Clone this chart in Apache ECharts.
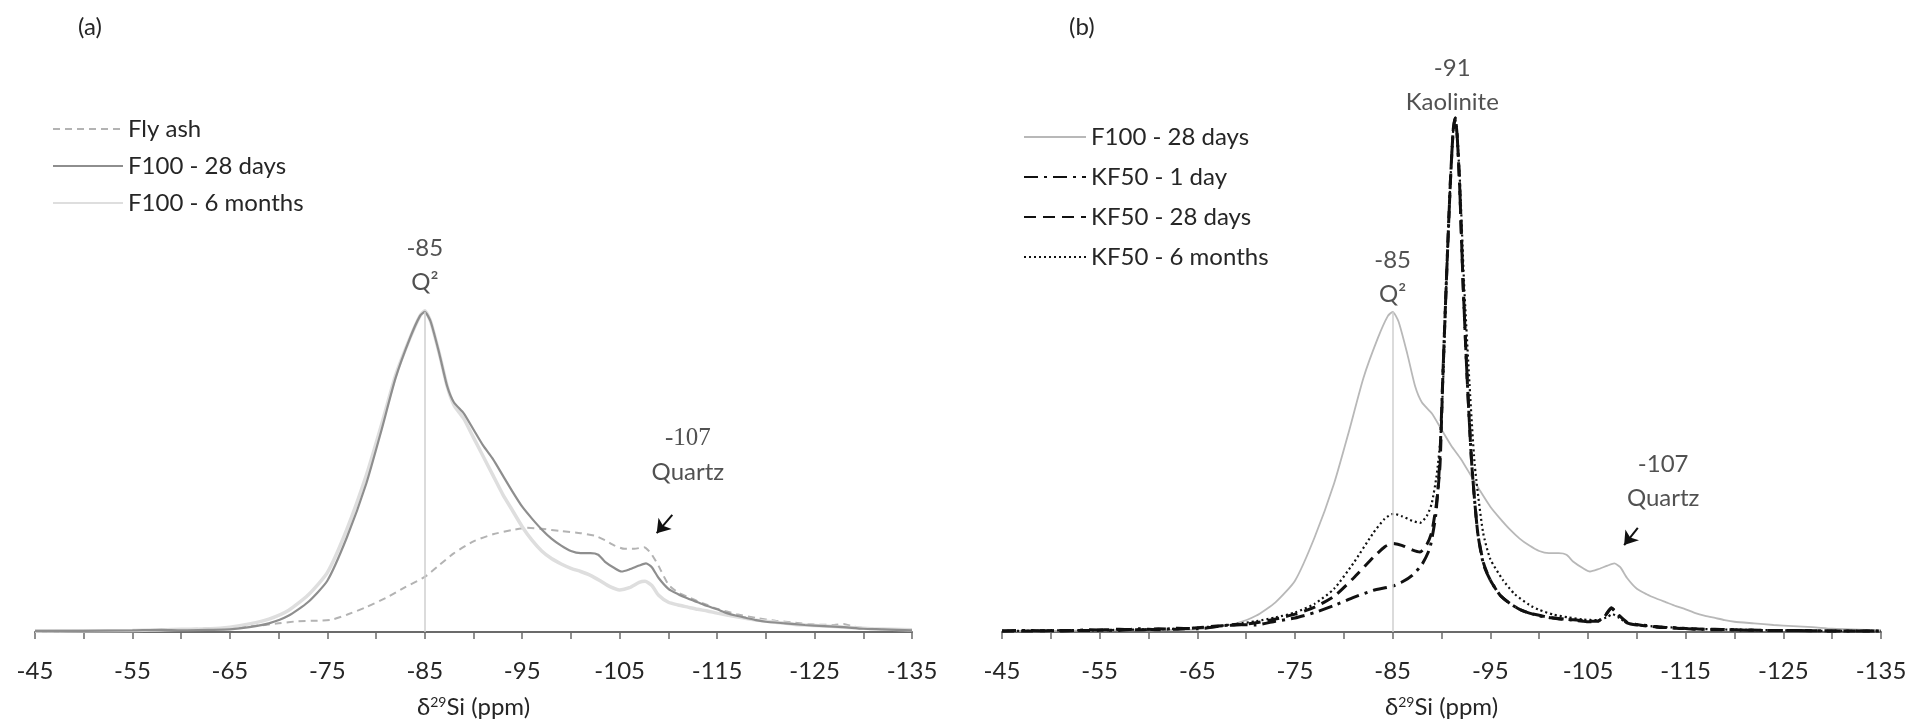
<!DOCTYPE html>
<html>
<head>
<meta charset="utf-8">
<script src="https://cdn.jsdelivr.net/npm/echarts@6.0.0/dist/echarts.min.js"></script>
<style>
  html, body { margin: 0; background: #fff; }
  #chart { width: 1927px; height: 728px; }
</style>
</head>
<body>
<div id="chart"></div>
<script>
// chemical shift (ppm), relative intensity
const tickLabels = [-45, -55, -65, -75, -85, -95, -105, -115, -125, -135]

const flyAsh = [
  [-45, 0.1], [-50, 0.2], [-55, 0.3], [-60, 0.5], [-65, 0.8], [-68, 1.2], [-70, 1.6], [-72, 2.0],
  [-74, 2.1], [-75.5, 2.3], [-77, 3.2], [-79, 4.6], [-81, 6.3], [-83, 8.3], [-85, 10.2], [-86.5, 12.4],
  [-88, 14.6], [-90, 16.8], [-92, 18.1], [-94, 18.9], [-95.5, 19.3], [-97, 19.1], [-99, 18.7],
  [-101, 18.3], [-102.5, 17.8], [-103.5, 17.0], [-104.5, 16.0], [-105.5, 15.4], [-106.5, 15.4],
  [-107.5, 15.7], [-108.2, 14.6], [-109, 12.2], [-110, 8.8], [-111, 7.3], [-112, 6.5], [-113, 5.7],
  [-114, 5.0], [-115, 4.3], [-117, 3.3], [-119, 2.6], [-121, 2.1], [-123, 1.7], [-125, 1.4],
  [-127, 1.3], [-128, 1.5], [-129, 1.0], [-131, 0.6], [-135, 0.3]
]

const f100Days28 = [
  [-45, 0.2], [-50, 0.2], [-55, 0.3], [-58, 0.4], [-60, 0.3], [-63, 0.4], [-65, 0.5], [-67, 0.9],
  [-69, 1.6], [-71, 3.0], [-73, 5.5], [-75, 9.5], [-77, 17.5], [-79, 27.5], [-80.5, 37], [-82, 47],
  [-83.5, 54.5], [-84.5, 58.5], [-85, 59.3], [-85.6, 57.5], [-86.5, 51.5], [-87.3, 45.5], [-88, 42.5],
  [-89, 40.5], [-90, 37.5], [-91, 34.5], [-92, 32], [-93, 29], [-94, 26], [-95, 23.2], [-96, 21],
  [-97, 19], [-98, 17.3], [-99, 16], [-100, 15], [-101, 14.6], [-102, 14.6], [-102.8, 14.3],
  [-103.5, 13], [-104.5, 11.8], [-105.2, 11.2], [-106, 11.6], [-107, 12.3], [-107.7, 12.7],
  [-108.3, 12], [-109, 10], [-110, 8], [-111, 7], [-112, 6.2], [-113, 5.5], [-114, 4.8], [-115, 4.2],
  [-116, 3.5], [-117, 3.0], [-118, 2.6], [-119, 2.2], [-120, 1.9], [-122, 1.6], [-124, 1.3],
  [-126, 1.1], [-128, 0.9], [-130, 0.6], [-132, 0.5], [-135, 0.3]
]

const f100Months6 = [
  [-45, 0.2], [-55, 0.3], [-60, 0.5], [-63, 0.6], [-65, 0.9], [-67, 1.5], [-69, 2.4], [-71, 4.0],
  [-73, 6.8], [-75, 11], [-77, 19], [-79, 29], [-80.5, 38], [-82, 47.5], [-83.5, 54.5], [-84.5, 58.5],
  [-85, 59.5], [-85.6, 57.5], [-86.5, 51.5], [-87.3, 45.5], [-88, 42], [-89, 39.5], [-90, 36],
  [-91, 32.5], [-92, 29], [-93, 25.5], [-94, 22.5], [-95, 19.5], [-96, 17], [-97, 15], [-98, 13.6],
  [-99, 12.6], [-100, 11.8], [-101, 11.2], [-102, 10.5], [-103, 9.5], [-104, 8.4], [-105, 7.8],
  [-106, 8.2], [-107, 9.2], [-107.6, 9.4], [-108.3, 8.6], [-109, 6.8], [-110, 5.5], [-111, 5.0],
  [-112, 4.6], [-113, 4.2], [-114, 3.9], [-115, 3.5], [-117, 2.8], [-119, 2.2], [-121, 1.8],
  [-123, 1.4], [-125, 1.2], [-127, 1.0], [-129, 0.8], [-131, 0.6], [-135, 0.4]
]

const kf50Day1 = [
  [-45, 0.2], [-48, 0.3], [-51, 0.2], [-54, 0.4], [-57, 0.3], [-59, 0.6], [-61, 0.4], [-63, 0.7],
  [-65, 0.6], [-67, 1.0], [-69, 1.4], [-71, 1.3], [-73, 2.0], [-75, 2.6], [-77, 3.6], [-79, 4.9],
  [-81, 6.4], [-83, 7.7], [-85, 8.5], [-86, 9.3], [-87, 10.5], [-88, 12.5], [-88.8, 15.5],
  [-89.4, 21.5], [-89.8, 31], [-90.15, 48], [-90.5, 65], [-90.9, 83], [-91.2, 93], [-91.4, 95.2],
  [-91.6, 92], [-91.85, 83], [-92.2, 65], [-92.6, 48], [-93.1, 31], [-93.7, 18.5], [-94.3, 12.5],
  [-95, 9.6], [-96, 6.8], [-97, 5.3], [-98, 4.2], [-99, 3.5], [-100, 3.0], [-101, 2.7], [-102, 2.4],
  [-103, 2.3], [-104, 2.1], [-105, 1.9], [-106, 2.0], [-106.8, 3.1], [-107.4, 4.4], [-108.1, 3.1],
  [-109, 1.7], [-110, 1.3], [-111, 1.2], [-112, 0.9], [-114, 0.8], [-116, 0.5], [-118, 0.5],
  [-120, 0.4], [-123, 0.3], [-126, 0.3], [-130, 0.2], [-135, 0.2]
]

const kf50Days28 = [
  [-45, 0.2], [-48, 0.2], [-51, 0.3], [-54, 0.3], [-57, 0.5], [-59, 0.4], [-61, 0.6], [-63, 0.5],
  [-65, 0.8], [-67, 1.1], [-69, 1.3], [-71, 1.7], [-73, 2.4], [-75, 3.3], [-77, 4.6], [-79, 6.6],
  [-81, 10.0], [-83, 13.8], [-84.2, 15.8], [-85, 16.4], [-86, 16.0], [-87, 15.2], [-87.8, 14.8],
  [-88.5, 16.2], [-89, 18.5], [-89.5, 24], [-89.85, 31], [-90.15, 48], [-90.5, 65], [-90.9, 83],
  [-91.2, 93], [-91.4, 95.2], [-91.6, 92], [-91.85, 83], [-92.2, 65], [-92.6, 48], [-93.1, 31],
  [-93.7, 18.5], [-94.3, 12.8], [-95, 9.6], [-96, 6.8], [-97, 5.3], [-98, 4.2], [-99, 3.5],
  [-100, 3.1], [-101, 2.7], [-102, 2.5], [-103, 2.3], [-104, 2.2], [-105, 2.0], [-106, 2.0],
  [-106.8, 3.2], [-107.4, 4.5], [-108.1, 3.2], [-109, 1.8], [-110, 1.4], [-111, 1.1], [-112, 1.0],
  [-114, 0.7], [-116, 0.6], [-118, 0.4], [-120, 0.4], [-123, 0.3], [-126, 0.3], [-130, 0.2], [-135, 0.2]
]

const kf50Months6 = [
  [-45, 0.2], [-48, 0.2], [-51, 0.3], [-54, 0.3], [-57, 0.4], [-60, 0.5], [-63, 0.6], [-65, 0.8],
  [-67, 1.1], [-69, 1.5], [-71, 2.0], [-73, 2.7], [-75, 3.6], [-77, 5.2], [-79, 8.0], [-81, 12.8],
  [-83, 18.3], [-84.2, 21.0], [-85.1, 21.9], [-86, 21.4], [-87, 20.6], [-87.8, 20.2], [-88.5, 21.5],
  [-89, 23.8], [-89.5, 29], [-89.9, 36], [-90.2, 48], [-90.5, 65], [-90.9, 83], [-91.2, 93],
  [-91.4, 95], [-91.6, 92], [-91.9, 83], [-92.3, 65], [-92.8, 48], [-93.4, 31], [-94.25, 18.5],
  [-95, 13.5], [-96.3, 9.6], [-97.5, 7.0], [-99, 5.0], [-100, 4.1], [-101.5, 3.2], [-103, 2.7],
  [-104.5, 2.3], [-106, 2.2], [-107, 2.8], [-107.5, 3.3], [-108.2, 2.6], [-109, 1.7], [-110, 1.3],
  [-112, 1.0], [-114, 0.8], [-116, 0.6], [-118, 0.5], [-121, 0.4], [-125, 0.3], [-130, 0.2], [-135, 0.2]
]

// annotation anchors: [ppm, intensity, text]
const notesA = [[-85, 67.9, '-85\nQ²'], [-112.0, 32.7, '{s|-107}\nQuartz']]
const notesB = [[-85, 65.6, '-85\nQ²'], [-91.1, 101.3, '-91\nKaolinite'], [-112.7, 27.9, '-107\nQuartz']]
// quartz arrows: [from, to]
const arrowA = [[-110.4, 21.7], [-108.8, 18.3]]
const arrowB = [[-110.1, 19.3], [-108.7, 16.1]]
const q2Peak = 59.3

const FONT = 'Lato, "Open Sans", sans-serif'
const TEXT = '#262626'
const chart = echarts.init(document.getElementById('chart'))

function xAxisFor(gridIndex) {
  return {
    type: 'value',
    gridIndex,
    inverse: true,
    min: -135,
    max: -45,
    interval: 5,
    name: '{a|δ}{s|29}{a|Si (ppm)}',
    nameLocation: 'middle',
    nameGap: 63,
    nameTextStyle: {
      rich: {
        a: { fontSize: 24, fontFamily: FONT, color: TEXT },
        s: { fontSize: 14, fontFamily: FONT, color: TEXT, padding: [0, 0, 11, 0] }
      }
    },
    axisLine: { lineStyle: { color: '#6b6b6b', width: 2 } },
    axisTick: { length: 7, lineStyle: { color: '#6b6b6b', width: 1.5 } },
    axisLabel: {
      margin: 27,
      fontSize: 24,
      fontFamily: FONT,
      color: TEXT,
      formatter: (v) => (tickLabels.includes(v) ? String(v) : '')
    },
    splitLine: { show: false }
  }
}

function yAxisFor(gridIndex) {
  return { type: 'value', gridIndex, min: 0, max: 110, show: false }
}

function curve(name, data, gridIndex, lineStyle, z) {
  return {
    name,
    type: 'line',
    xAxisIndex: gridIndex,
    yAxisIndex: gridIndex,
    data,
    symbol: 'none',
    smooth: 0.2,
    lineStyle,
    itemStyle: { color: lineStyle.color },
    z: z || 2,
    silent: true
  }
}

function notes(list, gridIndex) {
  return {
    type: 'scatter',
    xAxisIndex: gridIndex,
    yAxisIndex: gridIndex,
    symbolSize: 0,
    silent: true,
    data: list.map(([x, y, text]) => ({ value: [x, y], label: { formatter: text } })),
    label: {
      show: true,
      position: 'inside',
      fontSize: 24,
      lineHeight: 34,
      fontFamily: FONT,
      color: TEXT,
      rich: { s: { fontSize: 25, fontFamily: '"Liberation Serif", serif', color: TEXT, lineHeight: 34 } }
    },
    z: 5
  }
}

function arrow(pair, gridIndex) {
  return {
    type: 'line',
    xAxisIndex: gridIndex,
    yAxisIndex: gridIndex,
    data: [],
    silent: true,
    markLine: {
      silent: true,
      symbol: ['none', 'arrow'],
      symbolSize: 13,
      label: { show: false },
      lineStyle: { color: '#111', width: 2, type: 'solid' },
      data: [[{ coord: pair[0] }, { coord: pair[1] }]]
    }
  }
}

function peakLine(gridIndex) {
  return {
    type: 'line',
    xAxisIndex: gridIndex,
    yAxisIndex: gridIndex,
    data: [],
    silent: true,
    markLine: {
      silent: true,
      symbol: 'none',
      label: { show: false },
      lineStyle: { color: '#cfcfcf', width: 1.5, type: 'solid' },
      data: [[{ coord: [-85, 0] }, { coord: [-85, q2Peak] }]]
    }
  }
}

const legendText = { fontSize: 24, fontFamily: FONT, color: TEXT }
const panelTitle = { fontSize: 24, fontWeight: 'normal', fontFamily: FONT, color: TEXT }

chart.setOption({
  animation: false,
  backgroundColor: '#fff',
  title: [
    { text: '(a)', left: 73, top: 10, textStyle: panelTitle },
    { text: '(b)', left: 1064, top: 10, textStyle: panelTitle }
  ],
  legend: [
    {
      orient: 'vertical',
      left: 47,
      top: 112,
      itemWidth: 70,
      itemHeight: 14,
      itemGap: 13,
      itemStyle: { opacity: 0 },
      textStyle: legendText,
      data: ['Fly ash', 'F100 - 28 days', 'F100 - 6 months']
    },
    {
      orient: 'vertical',
      left: 1018,
      top: 120,
      itemWidth: 62,
      itemHeight: 14,
      itemGap: 16,
      itemStyle: { opacity: 0 },
      textStyle: legendText,
      data: ['F100 - 28 days ', 'KF50 - 1 day', 'KF50 - 28 days', 'KF50 - 6 months']
    }
  ],
  grid: [
    { left: 35, width: 877, top: 38, height: 594 },
    { left: 1002, width: 879, top: 38, height: 594 }
  ],
  xAxis: [xAxisFor(0), xAxisFor(1)],
  yAxis: [yAxisFor(0), yAxisFor(1)],
  series: [
    peakLine(0),
    curve('Fly ash', flyAsh, 0, { color: '#b3b3b3', width: 2, type: [7, 5] }),
    curve('F100 - 6 months', f100Months6, 0, { color: '#dedede', width: 3.5 }),
    curve('F100 - 28 days', f100Days28, 0, { color: '#8e8e8e', width: 2.2 }, 3),
    notes(notesA, 0),
    arrow(arrowA, 0),

    peakLine(1),
    curve('F100 - 28 days ', f100Days28, 1, { color: '#b8b8b8', width: 1.8 }),
    curve('KF50 - 1 day', kf50Day1, 1, { color: '#111', width: 3, type: [14, 6, 3, 6] }, 3),
    curve('KF50 - 28 days', kf50Days28, 1, { color: '#111', width: 3, type: [12, 7] }, 3),
    curve('KF50 - 6 months', kf50Months6, 1, { color: '#111', width: 2.2, type: [2, 3] }, 3),
    notes(notesB, 1),
    arrow(arrowB, 1)
  ]
})
</script>
</body>
</html>
